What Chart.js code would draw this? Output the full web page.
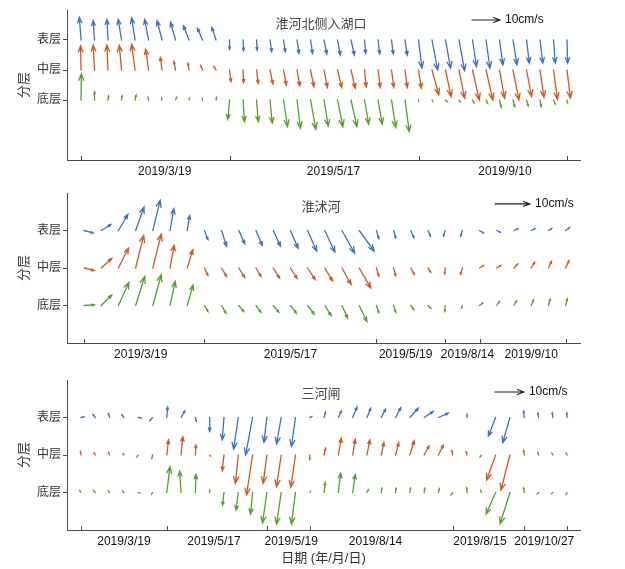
<!DOCTYPE html>
<html>
<head>
<meta charset="utf-8">
<script src="https://cdn.jsdelivr.net/npm/chart.js@4.4.1/dist/chart.umd.min.js"></script>
<style>
  body { margin: 0; background: #fff; width: 625px; height: 569px; position: relative; overflow: hidden; }
  .panel { position: absolute; left: 0; width: 625px; }
</style>
</head>
<body>
<div class="panel" style="top:0;height:185px"><canvas id="c1"></canvas></div>
<div class="panel" style="top:183px;height:185px"><canvas id="c2"></canvas></div>
<div class="panel" style="top:370px;height:199px"><canvas id="c3"></canvas></div>
<script>
// layers: 1 = 底层, 2 = 中层, 3 = 表层
const layerNames = ['底层', '中层', '表层'];

/* 淮河北侧入湖口 — velocity components (cm/s), east (u) and north (v) */
const p1Labels = ['2019/3/19', '2019/5/17', '2019/9/10'];
const p1LabelAt = [6.2, 18.7, 31.4];
const p1Marks = [0, 11, 25, 36];
const p1SurfU = [-0.6,-0.5,-0.4,-1.2,-1.2,-1.4,-1.8,-1.8,-2.0,-1.8,-1.5, 0,0.2,0.2,0.6,0.6,0.7,0.7,1.0,1.0,1.2,0.4,0.6,0.6,0.8, 1.2,2.0,1.8,2.0,1.4,1.4,1.2,1.4,1.0,1.0,0.6,0.2];
const p1SurfV = [8.1,6.9,7.4,7.4,7.9,7.4,6.9,6.3,5.1,4.2,4.5, -3.3,-3.8,-3.6,-4.2,-4.2,-4.8,-4.8,-5.0,-5.4,-5.4,-4.8,-5.0,-5.0,-5.4, -10.1,-10.7,-10.1,-11,-9.5,-10.1,-8.9,-8.9,-8.3,-8.3,-8.3,-8.3];
const p1MidU = [-0.2,-0.5,-0.4,-0.8,-1.2,-1.0,-0.6,-0.6,-0.4,-0.6,-0.7, 0.5,0.2,0.6,1.0,1.0,1.0,1.2,1.2,1.5,1.5,0.6,0.8,0.8,0.8, 1.0,2.4,2.0,2.0,2.4,2.4,1.8,2.1,1.8,1.4,1.4,1.2];
const p1MidV = [8.6,8.9,8.9,8.8,9.2,7.4,4.5,3.0,2.4,1.5,1.2, -4.2,-4.5,-4.8,-5.0,-5.4,-5.7,-6.0,-6.2,-6.2,-6.5,-6.0,-6.2,-6.2,-6.2, -6.5,-8.9,-9.5,-10.1,-10.7,-10.7,-10.1,-10.7,-9.5,-9.8,-10.4,-10.1];
const p1BotU = [0.1,0,0.2,0.2,0.4,-0.2,-0.2,0.4,0.2,-0.1,0.2, -0.6,0.5,0.6,0.8,1.4,1.2,1.9,1.5,1.9,2.1,1.5,1.5,1.5,1.5, 0,0.2,0.6,0.4,0.5,0.6,0.6,0.6,0.6,0.4,0.6,0.2];
const p1BotV = [9.3,3.0,1.5,1.5,1.8,1.0,0.8,1.0,0.7,0.5,1.0, -6.9,-7.7,-7.7,-8.3,-9.5,-10.1,-10.5,-9.3,-9.5,-9.5,-8.6,-8.6,-9.8,-11.3, -0.3,-0.4,-0.6,-0.6,-1.0,-1.2,-2.6,-2.4,-2.1,-2.4,-1.4,-1.0];

/* 淮沭河 */
const p2Labels = ['2019/3/19', '2019/5/17', '2019/5/19', '2019/8/14', '2019/9/10'];
const p2LabelAt = [3.3, 12.0, 18.7, 22.3, 26.0];
const p2Marks = [0, 7, 17, 21, 23, 28];
const p2SurfU = [2.6,2.8,2.7,2.4,2.1,1.1,0.7, 1.0,1.4,1.7,1.8,2.1,2.2,2.6,2.9,3.6,4.3, 0.7,0.6,0.9,0.7, -0.5,-0.5, 1.1,1.0,1.1,1.1,0.9,1.1];
const p2SurfV = [-0.7,1.7,4.6,6.7,8.6,6.3,4.3, -2.6,-4.5,-3.8,-4.3,-4.5,-5.1,-5.9,-6.2,-6.5,-5.9, -2.3,-2.1,-2.1,-1.6, -1.6,-1.6, -0.7,-0.5,0.5,0.5,0.5,0.8];
const p2MidU = [2.9,3.0,2.9,2.3,2.4,1.2,1.6, 1.0,1.4,1.7,1.4,1.8,1.9,2.2,2.2,2.6,3.3, 0.7,0.6,1.0,0.8, -0.1,-0.5, 1.1,1.1,1.0,1.0,0.9,1.0];
const p2MidV = [-0.7,2.7,5.7,9.3,9.7,6.5,5.2, -2.1,-2.4,-2.7,-2.4,-2.9,-3.0,-3.3,-3.7,-4.7,-5.7, -2.3,-2.2,-1.8,-1.2, -1.6,-1.8, 0.7,0.7,1.1,1.6,1.9,2.1];
const p2BotU = [3.0,3.0,3.0,2.6,2.4,1.5,1.7, 1.0,1.2,1.4,1.4,1.6,1.7,1.9,1.8,1.6,2.2, 0.7,0.6,0.9,0.8, -0.1,-0.2, 0.9,0.7,0.7,0.7,0.5,0.5];
const p2BotV = [0.2,3.0,6.6,8.3,8.8,6.9,5.9, -1.7,-2.2,-1.7,-1.9,-1.9,-2.2,-2.5,-2.9,-3.6,-4.6, -2.1,-1.9,-1.2,-0.8, -1.7,-0.7, 0.7,1.1,1.3,1.6,1.8,1.9];

/* 三河闸 */
const p3Labels = ['2019/3/19', '2019/5/17', '2019/5/19', '2019/8/14', '2019/8/15', '2019/10/27'];
const p3LabelAt = [3.0, 9.3, 14.7, 20.6, 27.9, 32.4];
const p3Marks = [0, 6, 13, 16, 26, 31, 34];
const p3SurfU = [1.0,-0.8,-0.4,-0.7,1.0,-0.9, 0.3,1.3,0.3, 0,-0.6,-1.6,-2.4,-1.0,-1.6,-1.4, 0.6,0.5,1.0,1.5,1.3,1.5,1.8,2.9,3.1,3.4, 0,0,0.1,-2.5,-2.5, -0.2,-0.2,-0.2,-0.1];
const p3SurfV = [0.2,1.0,1.3,0.9,-0.2,-1.1, 3.6,2.3,-1.3, -4.8,-7.7,-10.9,-12.9,-8.6,-9.1,-10.0, 0.3,1.8,2.2,3.6,3.2,2.9,3.4,3.2,2.1,1.5, 0.1,1.0,0.1,-6.4,-8.7, 2.2,1.6,1.6,1.6];
const p3MidU = [-0.2,-0.4,-0.3,-0.2,-0.4,-0.2, 0.6,0.6,0.2, 0.2,-0.6,-1.0,-2.1,-1.3,-1.6,-1.6, 0,0.5,1.0,0.9,1.0,0.9,1.1,1.5,1.7,1.7, -0.3,-0.3,-0.4,-3.1,-3.1, -0.2,-0.2,-0.3,-0.3];
const p3MidV = [1.1,0.7,0.8,0.4,-0.6,-1.1, 5.2,6.3,3.4, -0.3,-5.4,-9.8,-13.8,-9.8,-10.9,-11.1, -1.5,2.3,5.8,5.4,5.2,4.3,4.3,4.9,3.1,3.4, 1.5,1.1,-0.6,-8.6,-12.1, 1.5,0.8,0.6,0.6];
const p3BotU = [-0.4,-0.5,-0.4,-0.4,0.6,-0.3, 1.1,-0.5,0.2, 0,-0.5,-0.8,-0.7,-1.5,-1.6,-1.4, 0.2,0.4,0.8,0.9,0.5,0.2,0.2,0.2,0.2,0.3, -0.6,-0.1,-0.2,-3.3,-3.4, -0.2,-0.4,-0.4,-0.3];
const p3BotV = [0.6,0.6,0.6,0.5,-0.2,-0.6, 8.9,7.4,6.2, 0.8,-4.4,-6.1,-7.5,-10.5,-10.9,-10.9, 0.3,3.5,6.7,6.2,1.0,1.4,1.4,1.4,1.4,1.3, -0.8,1.6,0.7,-7.4,-10.8, 1.6,-0.4,-0.4,-0.6];

const refSpeed = 10; // cm/s reference arrow

const COLORS = ['#54a02c', '#d9551e', '#3e70c4']; // 底层, 中层, 表层
const AXIS = '#4a4a4a';
const FONT = '"Liberation Sans", Arial, "Noto Sans CJK SC", sans-serif';

function drawArrow(ctx, x0, y0, x1, y1, color, w) {
  const dx = x1 - x0, dy = y1 - y0;
  const len = Math.hypot(dx, dy);
  if (len < 0.6) return;
  const h = Math.min(len * 0.26, 7), a = Math.atan2(dy, dx), sp = 0.36;
  ctx.save();
  ctx.strokeStyle = color;
  ctx.lineWidth = w;
  ctx.lineCap = 'round';
  ctx.beginPath();
  ctx.moveTo(x0, y0);
  ctx.lineTo(x1, y1);
  ctx.moveTo(x1 - h * Math.cos(a - sp), y1 - h * Math.sin(a - sp));
  ctx.lineTo(x1, y1);
  ctx.lineTo(x1 - h * Math.cos(a + sp), y1 - h * Math.sin(a + sp));
  ctx.stroke();
  ctx.restore();
}

/* QUIVER PLUGIN */
const quiver = {
  id: 'quiver',
  afterDatasetsDraw(chart, args, opts) {
    const { ctx, chartArea, scales: { x, y } } = chart;
    chart.data.datasets.forEach((ds) => {
      ds.data.forEach((pt, i) => {
        const x0 = x.getPixelForValue(pt.x);
        const y0 = y.getPixelForValue(pt.y);
        const x1 = x.getPixelForValue(pt.x + ds.u[i] * opts.kx);
        const y1 = y.getPixelForValue(pt.y + ds.v[i] * opts.ky);
        drawArrow(ctx, x0, y0, x1, y1, ds.borderColor, 1.3);
      });
    });

    // inward tick marks on the date axis
    ctx.save();
    ctx.strokeStyle = AXIS;
    ctx.lineWidth = 1;
    opts.marks.forEach((m) => {
      const px = Math.round(x.getPixelForValue(m)) + 0.5;
      ctx.beginPath();
      ctx.moveTo(px, chartArea.bottom);
      ctx.lineTo(px, chartArea.bottom - 4);
      ctx.stroke();
    });
    ctx.restore();

    // reference arrow
    const rx0 = x.getPixelForValue(opts.ref[0]);
    const rx1 = x.getPixelForValue(opts.ref[0] + refSpeed * opts.kx);
    const ry = y.getPixelForValue(opts.ref[1]);
    drawArrow(ctx, rx0, ry, rx1, ry, '#222', 1.1);
    ctx.save();
    ctx.fillStyle = '#111';
    ctx.font = '12px ' + FONT;
    ctx.textBaseline = 'middle';
    ctx.fillText(refSpeed + 'cm/s', rx1 + 5, ry);

    // station name
    ctx.fillStyle = '#444';
    ctx.font = '13px ' + FONT;
    ctx.textAlign = 'center';
    ctx.fillText(opts.title, 321, chartArea.top + 14);
    ctx.restore();
  },
};

function makePanel(id, cfg) {
  return new Chart(document.getElementById(id), {
    type: 'scatter',
    data: {
      datasets: [1, 2, 3].map((lev, j) => ({
        label: layerNames[j],
        data: cfg.u[j].map((_, i) => ({ x: i, y: lev })),
        u: cfg.u[j],
        v: cfg.v[j],
        borderColor: COLORS[j],
        pointRadius: 0,
        showLine: false,
      })),
    },
    options: {
      responsive: true,
      maintainAspectRatio: false,
      animation: false,
      layout: { padding: { top: 10, right: 45, left: 0, bottom: cfg.padBottom || 0 } },
      plugins: {
        legend: { display: false },
        tooltip: { enabled: false },
        quiver: { kx: cfg.kx, ky: cfg.ky, marks: cfg.marks, ref: cfg.ref, title: cfg.title },
      },
      scales: {
        x: {
          type: 'linear',
          min: cfg.xMin,
          max: cfg.xMax,
          border: { color: AXIS, width: 1 },
          grid: { display: false, drawTicks: false },
          afterBuildTicks: (s) => { s.ticks = cfg.labelAt.map((v) => ({ value: v })); },
          afterFit: (s) => { s.height = cfg.xAxisH; },
          ticks: {
            autoSkip: false,
            maxRotation: 0,
            padding: 4,
            color: '#111',
            font: { family: FONT, size: 12 },
            callback: (v, i) => cfg.labels[i],
          },
          title: {
            display: !!cfg.xTitle,
            text: cfg.xTitle || '',
            color: '#333',
            font: { family: FONT, size: 13 },
            padding: { top: 0, bottom: 3 },
          },
        },
        y: {
          type: 'linear',
          min: cfg.yMin,
          max: 4,
          border: { color: AXIS, width: 1 },
          grid: { drawOnChartArea: false, drawTicks: true, tickLength: 4, tickColor: AXIS },
          afterBuildTicks: (s) => { s.ticks = [1, 2, 3].map((v) => ({ value: v })); },
          afterFit: (s) => { s.width = 67; },
          ticks: {
            padding: 2,
            color: '#333',
            font: { family: FONT, size: 12 },
            callback: (v) => layerNames[v - 1],
          },
          title: {
            display: true,
            text: '分层',
            color: '#333',
            font: { family: FONT, size: 13 },
            padding: { top: 17, bottom: 0 },
          },
        },
      },
    },
    plugins: [quiver],
  });
}

makePanel('c1', {
  u: [p1BotU, p1MidU, p1SurfU], v: [p1BotV, p1MidV, p1SurfV],
  labels: p1Labels, labelAt: p1LabelAt, marks: p1Marks,
  xMin: -1.04, xMax: 36.96, yMin: -1, xAxisH: 25,
  kx: 0.2074, ky: 0.0933, ref: [28.96, 3.667], title: '淮河北侧入湖口',
});

makePanel('c2', {
  u: [p2BotU, p2MidU, p2SurfU], v: [p2BotV, p2MidV, p2SurfV],
  labels: p2Labels, labelAt: p2LabelAt, marks: p2Marks,
  xMin: -0.99, xMax: 28.84, yMin: 0, xAxisH: 25,
  kx: 0.2035, ky: 0.0933, ref: [23.9, 3.71], title: '淮沭河',
});

makePanel('c3', {
  u: [p3BotU, p3MidU, p3SurfU], v: [p3BotV, p3MidV, p3SurfV],
  labels: p3Labels, labelAt: p3LabelAt, marks: p3Marks,
  xMin: -0.98, xMax: 34.9, yMin: 0, xAxisH: 39,
  kx: 0.2028, ky: 0.0773, ref: [28.95, 3.68], title: '三河闸',
  xTitle: '日期 (年/月/日)',
});
</script>
</body>
</html>
